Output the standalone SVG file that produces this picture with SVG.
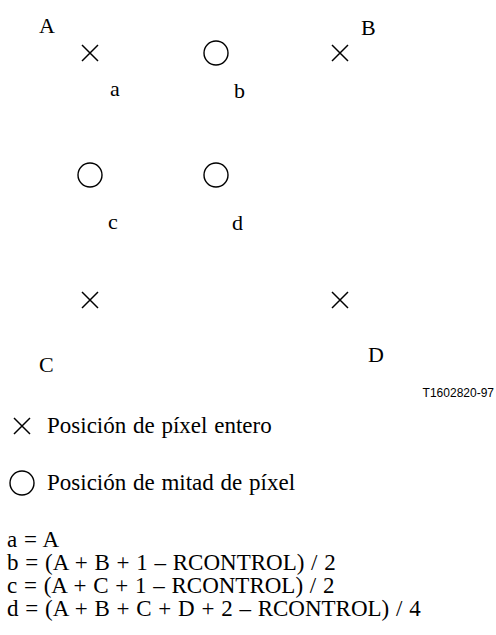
<svg xmlns="http://www.w3.org/2000/svg" width="496" height="635" viewBox="0 0 496 635">
<defs>
<style>
.t{font-family:"Liberation Serif","Times New Roman",serif;font-size:22px;fill:#000}
.f{font-family:"Liberation Serif","Times New Roman",serif;font-size:23px;fill:#000;word-spacing:1px}
.s{font-family:"Liberation Sans",Arial,sans-serif;font-size:12px;fill:#000}
.x{stroke:#000;stroke-width:1.5;fill:none}
.o{stroke:#000;stroke-width:1.4;fill:none}
</style>
<path id="cross" d="M-8,-8L8,8M8,-8L-8,8"/>
</defs>
<rect width="496" height="635" fill="#fff"/>
<g id="nodeA"><text class="t" x="39" y="33">A</text><use href="#cross" class="x" x="90" y="53"/><text class="t" x="110" y="96">a</text></g>
<g id="nodeb"><circle class="o" cx="216" cy="53" r="12"/><text class="t" x="234" y="98">b</text></g>
<g id="nodeB"><text class="t" x="361" y="35">B</text><use href="#cross" class="x" x="340" y="53"/></g>
<g id="nodec"><circle class="o" cx="90" cy="175" r="12"/><text class="t" x="108" y="229">c</text></g>
<g id="noded"><circle class="o" cx="216" cy="175" r="12"/><text class="t" x="232" y="230">d</text></g>
<g id="nodeC"><use href="#cross" class="x" x="90" y="300"/><text class="t" x="39" y="372">C</text></g>
<g id="nodeD"><use href="#cross" class="x" x="340" y="300"/><text class="t" x="368" y="362">D</text></g>
<g id="connectors"></g>
<text class="s" x="494" y="397" text-anchor="end">T1602820-97</text>
<g id="legend">
<use href="#cross" class="x" x="22" y="426"/>
<text class="f" x="47" y="433">Posición de píxel entero</text>
<circle class="o" cx="22" cy="483" r="12"/>
<text class="f" x="47" y="490">Posición de mitad de píxel</text>
</g>
<g id="formulas">
<text class="f" x="7" y="547">a = A</text>
<text class="f" x="7" y="570">b = (A + B + 1 – RCONTROL) / 2</text>
<text class="f" x="7" y="593">c = (A + C + 1 – RCONTROL) / 2</text>
<text class="f" x="7" y="616">d = (A + B + C + D + 2 – RCONTROL) / 4</text>
</g>
</svg>
